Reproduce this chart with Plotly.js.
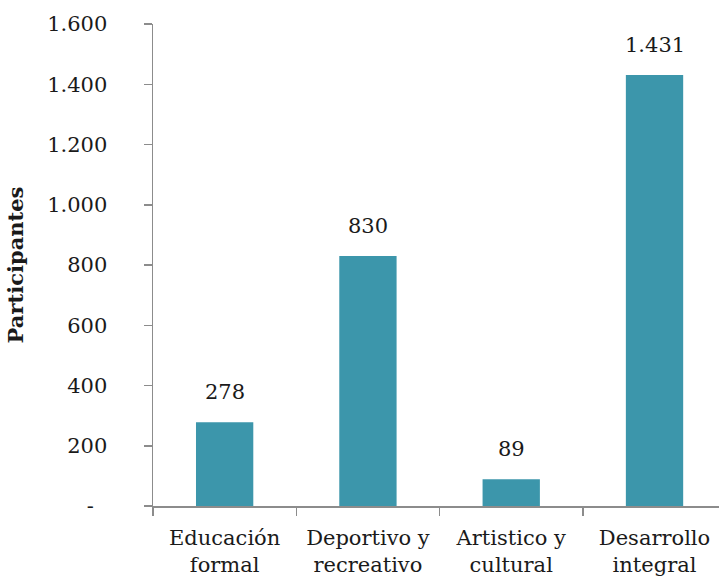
<!DOCTYPE html>
<html><head><meta charset="utf-8">
<script src="https://cdn.plot.ly/plotly-3.0.1.min.js"></script>
<style>body{margin:0;padding:0;background:#fff}#chart{width:719px;height:579px}</style>
</head><body><div id="chart"></div>
<script>
var categories = ["Educación<br>formal", "Deportivo y<br>recreativo", "Artistico y<br>cultural", "Desarrollo<br>integral"];
var participantes = [278, 830, 89, 1431];
var valueLabels = ["278", "830", "89", "1.431"];
var yTickVals = [0, 200, 400, 600, 800, 1000, 1200, 1400, 1600];
var yTickText = ["-\u00a0\u00a0", "200", "400", "600", "800", "1.000", "1.200", "1.400", "1.600"];

var FONT = "DejaVu Serif, Liberation Serif, serif";
var FS = 21;
var trace = {
  type: "bar",
  x: categories,
  y: participantes,
  marker: {color: "#3C96AB", line: {width: 0}},
  hoverinfo: "none"
};
var annotations = categories.map(function(c, i){
  return {x: c, y: participantes[i], text: valueLabels[i], showarrow: false,
          xref: "x", yref: "y", yanchor: "middle", yshift: 30,
          font: {family: FONT, size: FS, color: "#1a1a1a"}};
});
var layout = {
  width: 719, height: 579,
  margin: {l: 153, r: 0, t: 24, b: 73, pad: 0},
  paper_bgcolor: "#fff", plot_bgcolor: "#fff",
  font: {family: FONT, size: FS, color: "#1a1a1a"},
  bargap: 0.6,
  showlegend: false,
  xaxis: {
    type: "category", range: [-0.5, 3.45],
    showline: true, linecolor: "#8c8c8c", linewidth: 1.5,
    ticks: "outside", tickson: "boundaries", ticklen: 8, tickcolor: "#8c8c8c", tickwidth: 1.5,
    ticklabelstandoff: 12,
    showgrid: false, zeroline: false, automargin: false,
    tickfont: {family: FONT, size: FS, color: "#1a1a1a"}
  },
  yaxis: {
    range: [0, 1600],
    tickvals: yTickVals, ticktext: yTickText,
    showline: true, linecolor: "#8c8c8c", linewidth: 1.5,
    ticks: "outside", ticklen: 8, tickcolor: "#8c8c8c", tickwidth: 1.5,
    ticklabelstandoff: 32,
    showgrid: false, zeroline: false, automargin: true,
    tickfont: {family: FONT, size: FS, color: "#1a1a1a"},
    title: {text: "<b>Participantes</b>", standoff: 18, font: {family: FONT, size: FS, color: "#1a1a1a"}}
  },
  annotations: annotations
};
Plotly.newPlot("chart", [trace], layout, {displayModeBar: false, staticPlot: true});
</script></body></html>
